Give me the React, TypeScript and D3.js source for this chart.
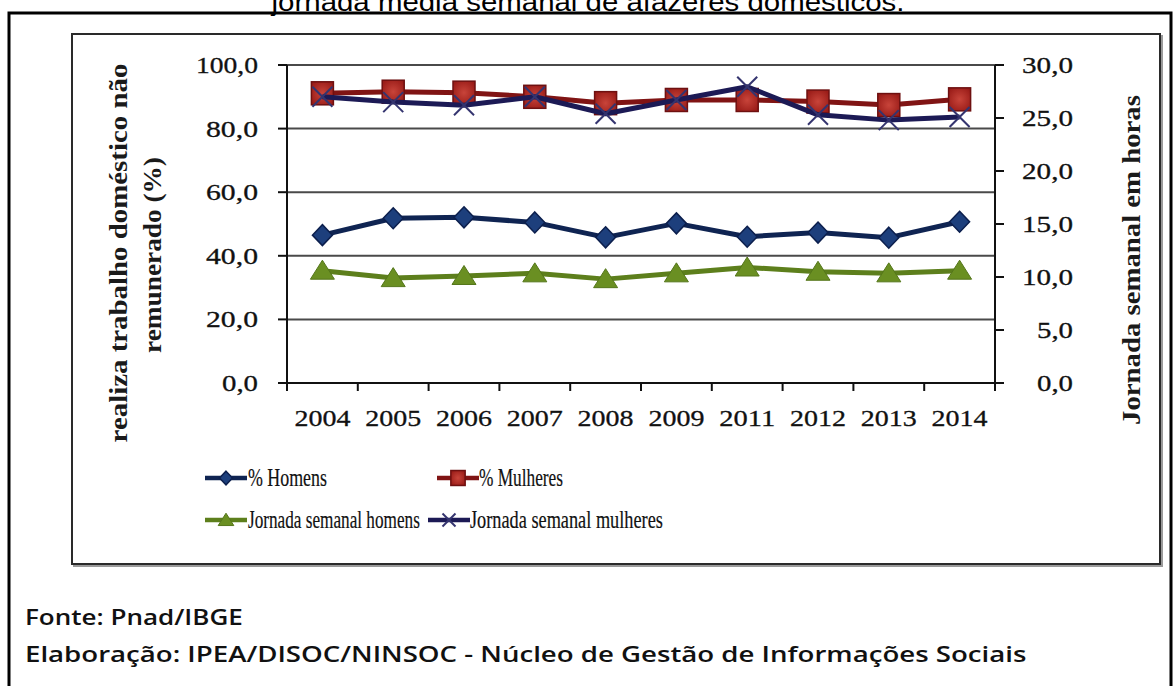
import React, { useLayoutEffect, useRef, useState } from "react";
import * as d3 from "d3";

// Categories and series
const years = ["2004", "2005", "2006", "2007", "2008", "2009", "2011", "2012", "2013", "2014"];
const pctHomens = [46.5, 51.8, 52.1, 50.5, 45.8, 50.2, 46.0, 47.3, 45.7, 50.7];
const pctMulheres = [91.1, 91.6, 91.3, 90.0, 88.0, 89.0, 89.0, 88.5, 87.4, 89.2];
const jornadaHomens = [10.6, 9.9, 10.1, 10.35, 9.8, 10.35, 10.9, 10.5, 10.35, 10.6];
const jornadaMulheres = [27.0, 26.5, 26.2, 27.0, 25.4, 26.7, 27.95, 25.3, 24.8, 25.1];
const leftTicks = [0, 20, 40, 60, 80, 100];
const rightTicks = [0, 5, 10, 15, 20, 25, 30];

const W = 1173;
const H = 686;
const plot = { left: 287, right: 995, top: 65, bottom: 383 };

const x = d3.scaleBand<string>().domain(years).range([plot.left, plot.right]);
const yL = d3.scaleLinear().domain([0, 100]).range([plot.bottom, plot.top]);
const yR = d3.scaleLinear().domain([0, 30]).range([plot.bottom, plot.top]);
const fmt = (v: number) => d3.format(".1f")(v).replace(".", ",");

const serif = "'Liberation Serif', 'DejaVu Serif', serif";
const sans = "'Liberation Sans', Arial, sans-serif";
const noteFont = "'Open Sans', 'Noto Sans', sans-serif";

const cx = (d: string) => (x(d) as number) + x.bandwidth() / 2;

// Text squeezed or widened horizontally to a given run length
function FitText({
  x: tx, y: ty, width, anchor = "start", rotate = 0, children, ...rest
}: {
  x: number; y: number; width: number; anchor?: "start" | "middle" | "end"; rotate?: number; children: string;
  [k: string]: any;
}) {
  const ref = useRef<SVGTextElement>(null);
  const [s, setS] = useState(1);
  useLayoutEffect(() => {
    if (ref.current) {
      const n = ref.current.getComputedTextLength();
      if (n > 0) setS(width / n);
    }
  }, [width, children]);
  return (
    <g transform={`translate(${tx},${ty}) rotate(${rotate}) scale(${s},1)`}>
      <text ref={ref} x={0} y={0} textAnchor={anchor} {...rest}>
        {children}
      </text>
    </g>
  );
}

const diamond = (r: number) => `M0,${-r}L${r * 0.95},0L0,${r}L${-r * 0.95},0Z`;
const triangle = (w: number, h: number) => `M0,${-h * 0.55}L${w / 2},${h * 0.45}L${-w / 2},${h * 0.45}Z`;

type Marker = "diamond" | "square" | "triangle" | "x";

function MarkerShape({ kind, px, py, legend }: { kind: Marker; px: number; py: number; legend?: boolean }) {
  const k = legend ? 0.65 : 1;
  if (kind === "diamond")
    return <path d={diamond(10.5 * k)} transform={`translate(${px},${py})`} fill="#1d3f7c" stroke="#0c1f4d" strokeWidth={1.5} />;
  if (kind === "square")
    return (
      <rect x={px - 11 * k} y={py - 11.5 * k} width={22 * k} height={23 * k} fill="url(#sqGrad)" stroke="#6e1010" strokeWidth={1.5} />
    );
  if (kind === "triangle")
    return <path d={triangle(24 * k, 19 * k)} transform={`translate(${px},${py})`} fill="#6a8f22" stroke="#54761a" strokeWidth={1} />;
  const s = 10 * k;
  return (
    <g transform={`translate(${px},${py})`} stroke="#34346f" strokeWidth={2}>
      <line x1={-s} y1={-s} x2={s} y2={s} />
      <line x1={-s} y1={s} x2={s} y2={-s} />
    </g>
  );
}

const series: { name: string; values: number[]; axis: "L" | "R"; color: string; marker: Marker }[] = [
  { name: "% Homens", values: pctHomens, axis: "L", color: "#0f2452", marker: "diamond" },
  { name: "% Mulheres", values: pctMulheres, axis: "L", color: "#801414", marker: "square" },
  { name: "Jornada semanal homens", values: jornadaHomens, axis: "R", color: "#5d7f1c", marker: "triangle" },
  { name: "Jornada semanal mulheres", values: jornadaMulheres, axis: "R", color: "#1c1a55", marker: "x" },
];

const legendPos = [
  { lx: 205, tx: 248, y: 478, tw: 79 },
  { lx: 437, tx: 479, y: 478, tw: 84 },
  { lx: 205, tx: 248, y: 520, tw: 172 },
  { lx: 428, tx: 470, y: 520, tw: 193 },
];

const axisText = { fontFamily: serif, fill: "#111", stroke: "#111", strokeWidth: 0.3 };

export default function App() {
  return (
    <svg width={W} height={H} style={{ position: "absolute", left: 0, top: 0, background: "#fff" }}>
      <defs>
        <radialGradient id="sqGrad" cx="50%" cy="50%" r="60%">
          <stop offset="0%" stopColor="#c8443a" />
          <stop offset="100%" stopColor="#9a1c18" />
        </radialGradient>
      </defs>
      <rect width={W} height={H} fill="#fff" />

      {/* heading, running off the top edge */}
      <FitText x={588} y={11} width={633} anchor="middle" fontFamily={sans} fontSize={25} fill="#000">
        jornada média semanal de afazeres domésticos.
      </FitText>

      {/* outer frame */}
      <rect x={9} y={13} width={1162} height={700} fill="none" stroke="#000" strokeWidth={3} />
      {/* chart frame */}
      <rect x={74} y={36} width={1088} height={530} fill="none" stroke="#9a9a9a" strokeWidth={2} />
      <rect x={72} y={34} width={1088} height={530} fill="#fff" stroke="#2a2a2a" strokeWidth={2} />

      {/* gridlines */}
      {leftTicks.filter((t) => t > 0).map((t) => (
        <line key={t} x1={plot.left} x2={plot.right + (t === 100 ? 8 : 0)} y1={yL(t)} y2={yL(t)} stroke="#4a4a4a" strokeWidth={2} />
      ))}

      {/* left axis */}
      <line x1={plot.left} x2={plot.left} y1={plot.top} y2={plot.bottom} stroke="#111" strokeWidth={2} />
      {leftTicks.map((t) => (
        <g key={t}>
          <line x1={plot.left - 9} x2={plot.left} y1={yL(t)} y2={yL(t)} stroke="#111" strokeWidth={2} />
          <FitText x={258} y={yL(t)} dy="0.35em" anchor="end" fontSize={23} {...axisText}
            width={t === 100 ? 62 : t === 0 ? 36 : 52}>
            {fmt(t)}
          </FitText>
        </g>
      ))}

      {/* right axis */}
      <line x1={plot.right} x2={plot.right} y1={plot.top} y2={plot.bottom} stroke="#111" strokeWidth={2} />
      {rightTicks.map((t) => (
        <g key={t}>
          <line x1={plot.right} x2={plot.right + 9} y1={yR(t)} y2={yR(t)} stroke="#111" strokeWidth={2} />
          <FitText x={1073} y={yR(t)} dy="0.35em" anchor="end" fontSize={23} {...axisText} width={t >= 10 ? 51 : 36}>
            {fmt(t)}
          </FitText>
        </g>
      ))}

      {/* category axis */}
      <line x1={plot.left - 9} x2={plot.right} y1={plot.bottom} y2={plot.bottom} stroke="#111" strokeWidth={2} />
      {years.map((d) => (
        <line key={"t" + d} x1={x(d) as number} x2={x(d) as number} y1={plot.bottom} y2={plot.bottom + 8} stroke="#111" strokeWidth={2} />
      ))}
      <line x1={plot.right} x2={plot.right} y1={plot.bottom} y2={plot.bottom + 8} stroke="#111" strokeWidth={2} />
      {years.map((d) => (
        <FitText key={d} x={cx(d)} y={426} anchor="middle" fontSize={24} {...axisText} width={56}>
          {d}
        </FitText>
      ))}

      {/* axis titles */}
      <FitText x={118} y={253} rotate={-90} width={379} dy="0.35em" anchor="middle" fontFamily={serif} fontWeight="bold" fontSize={25} fill="#1a1a1a">
        realiza trabalho doméstico não
      </FitText>
      <FitText x={152} y={255} rotate={-90} width={196} dy="0.35em" anchor="middle" fontFamily={serif} fontWeight="bold" fontSize={25} fill="#1a1a1a">
        remunerado (%)
      </FitText>
      <FitText x={1131} y={260} rotate={-90} width={330} dy="0.35em" anchor="middle" fontFamily={serif} fontWeight="bold" fontSize={25} fill="#1a1a1a">
        Jornada semanal em horas
      </FitText>

      {/* series */}
      {series.map((s) => {
        const yy = s.axis === "L" ? yL : yR;
        const line = d3
          .line<number>()
          .x((_, i) => cx(years[i]))
          .y((v) => yy(v));
        return (
          <g key={s.name}>
            <path d={line(s.values) || ""} fill="none" stroke={s.color} strokeWidth={5} strokeLinejoin="round" />
            {s.values.map((v, i) => (
              <MarkerShape key={i} kind={s.marker} px={cx(years[i])} py={yy(v)} />
            ))}
          </g>
        );
      })}

      {/* legend */}
      {series.map((s, i) => {
        const p = legendPos[i];
        return (
          <g key={"lg" + s.name}>
            <line x1={p.lx} x2={p.lx + 42} y1={p.y} y2={p.y} stroke={s.color} strokeWidth={4.5} />
            <MarkerShape kind={s.marker} px={p.lx + 21} py={p.y} legend />
            <FitText x={p.tx} y={p.y} dy="0.33em" width={p.tw} fontFamily={serif} fontSize={25} fill="#111" stroke="#111" strokeWidth={0.2}>
              {s.name}
            </FitText>
          </g>
        );
      })}

      {/* source notes */}
      <FitText x={25} y={625} width={218} fontFamily={noteFont} fontWeight={600} fontSize={22} fill="#111">
        Fonte: Pnad/IBGE
      </FitText>
      <FitText x={25} y={662} width={1002} fontFamily={noteFont} fontWeight={600} fontSize={22} fill="#111">
        Elaboração: IPEA/DISOC/NINSOC - Núcleo de Gestão de Informações Sociais
      </FitText>
    </svg>
  );
}
